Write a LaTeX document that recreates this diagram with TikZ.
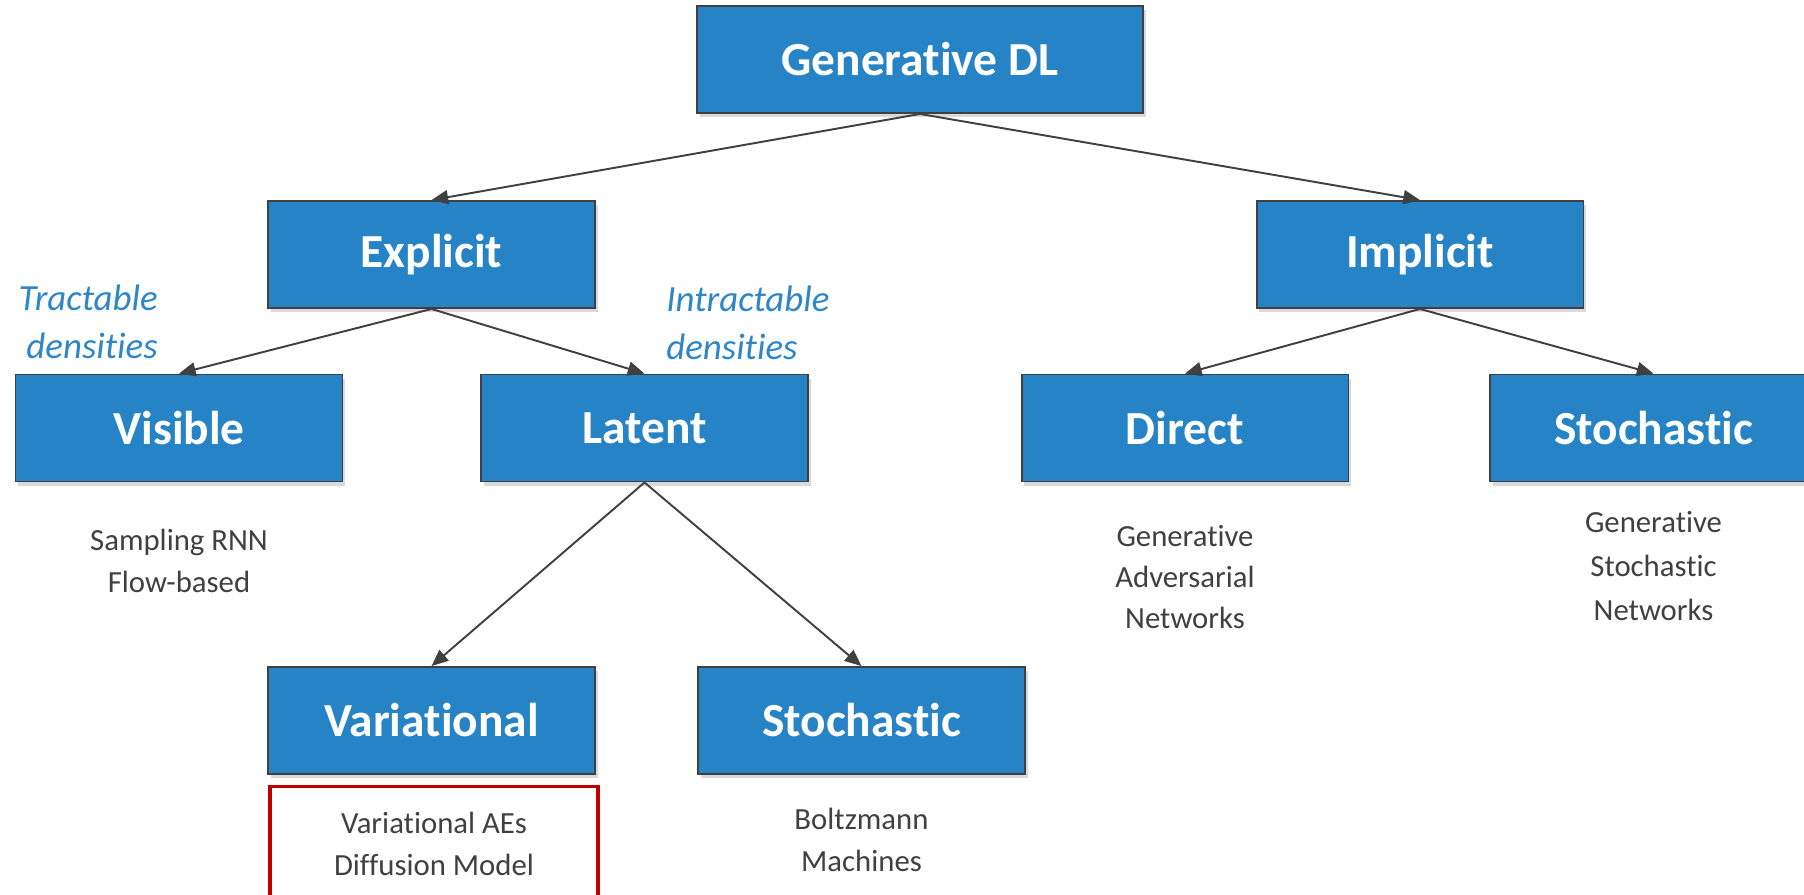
\documentclass[tikz,border=0pt]{standalone}
\usepackage{fontspec}
\setmainfont[Ligatures=CommonOff]{Carlito}
\usetikzlibrary{positioning,arrows.meta,shadows}
\definecolor{boxColor}{RGB}{38,132,198}
\definecolor{lineColor}{RGB}{64,64,64}
\definecolor{noteColor}{RGB}{46,134,200}
\definecolor{markColor}{RGB}{192,0,0}
\tikzstyle{diagram} = [x = .02cm, y = -.02cm]
\tikzstyle{boxStyle} = [draw=lineColor, fill=boxColor, line width=1.1pt, minimum width=6.54cm, minimum height=2.14cm, text=white, font=\fontsize{27}{32}\selectfont\bfseries, drop shadow={shadow xshift=1.5pt, shadow yshift=-2.5pt, opacity=.3}]
\tikzstyle{branchArrow} = [draw=lineColor, line width=1.1pt, -{Triangle[length=9.5pt,width=8pt]}]
\tikzstyle{exampleText} = [text=lineColor, align=center, font=\fontsize{17.5}{23.5}\selectfont]
\tikzstyle{densityText} = [text=noteColor, inner sep=0pt, font=\fontsize{21}{27}\selectfont\itshape]
\tikzstyle{highlightBox} = [draw=markColor, line width=2pt, minimum width=6.56cm, minimum height=2.3cm]
\newcommand{\categoryBox}[4]{\node [boxStyle] (#1) at (#2, #3) {#4};}
\newcommand{\branch}[2]{\draw [branchArrow] (#1.south) -- (#2.north);}

\begin{document}
\begin{tikzpicture}[diagram]
  \useasboundingbox (0,0) rectangle (1804,894);
  % boxes
  \node [boxStyle, minimum width=8.92cm] (generativeDL) at (920, 59.5) {Generative DL};
  \categoryBox{explicit}{431.5}{254.5}{Explicit}
  \categoryBox{implicit}{1420}{254.5}{Implicit}
  \categoryBox{visible}{179}{428}{Visible}
  \categoryBox{latent}{644.5}{428}{Latent}
  \categoryBox{direct}{1185}{428}{Direct}
  \categoryBox{stochasticImplicit}{1653.5}{428}{Stochastic}
  \categoryBox{variational}{431.5}{720.5}{Variational}
  \categoryBox{stochasticLatent}{861.5}{720.5}{Stochastic}
  % arrows
  \branch{generativeDL}{explicit}
  \branch{generativeDL}{implicit}
  \branch{explicit}{visible}
  \branch{explicit}{latent}
  \branch{implicit}{direct}
  \branch{implicit}{stochasticImplicit}
  \branch{latent}{variational}
  \branch{latent}{stochasticLatent}
  % notes
  \node [densityText, anchor=east, align=right] (tractable) at (158, 322) {Tractable\\densities};
  \node [densityText, anchor=west, align=left] (intractable) at (666, 323) {Intractable\\densities};
  \node [exampleText] (visibleExamples) at (179, 561) {Sampling RNN\\Flow-based};
  \node [exampleText] (directExamples) at (1185, 577) {Generative\\Adversarial\\Networks};
  \node [exampleText, font=\fontsize{17.5}{25}\selectfont] (stochasticExamples) at (1653.5, 566) {Generative\\Stochastic\\Networks};
  \node [exampleText, highlightBox] (variationalExamples) at (434, 844) {Variational AEs\\Diffusion Model};
  \node [exampleText] (boltzmannExamples) at (861.5, 840) {Boltzmann\\Machines};
\end{tikzpicture}
\end{document}
